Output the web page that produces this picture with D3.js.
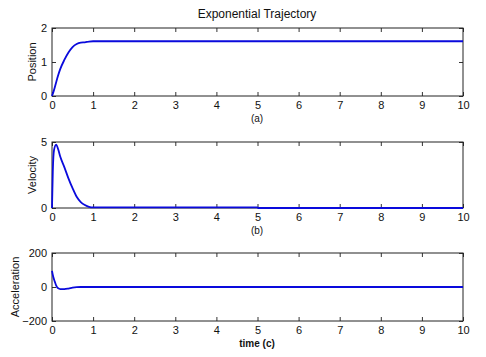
<!DOCTYPE html>
<html>
<head>
<meta charset="utf-8">
<script src="https://cdn.jsdelivr.net/npm/d3@7"></script>
<style>
  body { margin: 0; background: #fff; }
  svg text { font-family: "Liberation Sans", Arial, sans-serif; fill: #111; }
</style>
</head>
<body>
<div id="chart"></div>
<script>
// time ticks shared by all three panels
const time_ticks = [0, 1, 2, 3, 4, 5, 6, 7, 8, 9, 10];

// position (a)
const pos_t = [0, 0.05, 0.1, 0.15, 0.2, 0.3, 0.4, 0.5, 0.6, 0.7, 0.8, 0.9, 1, 2, 5, 10];
const pos_v = [0, 0.18, 0.4, 0.61, 0.79, 1.06, 1.28, 1.44, 1.53, 1.57, 1.58, 1.6, 1.61, 1.61, 1.61, 1.61];

// velocity (b)
const vel_t = [0, 0.02, 0.05, 0.1, 0.15, 0.2, 0.3, 0.4, 0.5, 0.6, 0.7, 0.8, 0.9, 1, 5, 5.02, 10];
const vel_v = [0, 2.8, 4.4, 4.8, 4.45, 3.9, 3.1, 2.25, 1.5, 0.85, 0.45, 0.22, 0.08, 0.04, 0.04, 0, 0];

// acceleration (c)
const acc_t = [0, 0.03, 0.07, 0.1, 0.15, 0.2, 0.3, 0.4, 0.5, 0.6, 0.7, 10];
const acc_v = [95, 60, 30, 10, -8, -12, -12, -9, -4, -1, 0, 0];

const panels = [
    { t: pos_t, v: pos_v, domain: [0, 2], ticks: [0, 1, 2], ylabel: "Position", xlabel: "(a)", top: 28, bottom: 96, labelX: 36 },
    { t: vel_t, v: vel_v, domain: [0, 5], ticks: [0, 5], ylabel: "Velocity", xlabel: "(b)", top: 142, bottom: 208, labelX: 36 },
    { t: acc_t, v: acc_v, domain: [-200, 200], ticks: [-200, 0, 200], ylabel: "Acceleration", xlabel: "time  (c)", top: 253, bottom: 321, labelX: 19 }
];

const width = 486, height = 357;
const left = 52, right = 463;

const svg = d3.select("#chart")
    .append("svg")
    .attr("width", width)
    .attr("height", height);

svg.append("text")
    .attr("x", 257).attr("y", 18)
    .attr("text-anchor", "middle")
    .style("font-size", "12px")
    .text("Exponential Trajectory");

const x = d3.scaleLinear().domain([0, 10]).range([left, right]);

panels.forEach(p => {
    const y = d3.scaleLinear().domain(p.domain).range([p.bottom, p.top]);
    const g = svg.append("g");

    // inner ticks on all four sides, MATLAB style
    const axes = [
        { ax: d3.axisBottom(x).tickValues(time_ticks).tickFormat(d3.format("d")), tr: `translate(0,${p.bottom})` },
        { ax: d3.axisTop(x).tickValues(time_ticks).tickFormat(""), tr: `translate(0,${p.top})` },
        { ax: d3.axisLeft(y).tickValues(p.ticks).tickFormat(d3.format("d")), tr: `translate(${left},0)` },
        { ax: d3.axisRight(y).tickValues(p.ticks).tickFormat(""), tr: `translate(${right},0)` }
    ];
    axes.forEach(a => {
        const ag = g.append("g")
            .attr("transform", a.tr)
            .call(a.ax.tickSizeInner(-4).tickSizeOuter(0).tickPadding(5));
        ag.select(".domain").remove();
        ag.selectAll("line").attr("stroke", "#333");
        ag.selectAll("text").style("font-size", "11px").style("font-family", "Liberation Sans, Arial, sans-serif");
    });

    g.append("rect")
        .attr("x", left).attr("y", p.top)
        .attr("width", right - left).attr("height", p.bottom - p.top)
        .attr("fill", "none")
        .attr("stroke", "#222")
        .attr("stroke-width", 1);

    const series = p.t.map((d, i) => ({ t: d, v: p.v[i] }));
    g.append("path")
        .datum(series)
        .attr("d", d3.line()
            .curve(d3.curveMonotoneX)
            .x(d => x(d.t))
            .y(d => y(d.v)))
        .attr("fill", "none")
        .attr("stroke", "#0a0adc")
        .attr("stroke-width", 1.8);

    g.append("text")
        .attr("transform", `translate(${p.labelX},${(p.top + p.bottom) / 2}) rotate(-90)`)
        .attr("text-anchor", "middle")
        .style("font-size", "11px")
        .text(p.ylabel);

    g.append("text")
        .attr("x", 257).attr("y", p.bottom + 26)
        .attr("text-anchor", "middle")
        .style("font-size", "10px")
        .style("font-weight", p.xlabel.startsWith("time") ? "bold" : "normal")
        .text(p.xlabel);
});
</script>
</body>
</html>
